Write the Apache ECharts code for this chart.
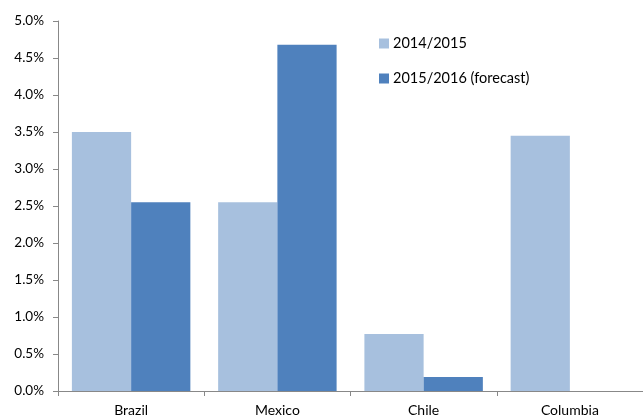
<!DOCTYPE html>
<html>
<head>
<meta charset="utf-8">
<script src="https://cdn.jsdelivr.net/npm/echarts@6/dist/echarts.min.js"></script>
<style>
  html, body { margin: 0; padding: 0; background: #fff; }
  #chart { width: 643px; height: 419px; }
</style>
</head>
<body>
<div id="chart"></div>
<script>
var countries = ['Brazil', 'Mexico', 'Chile', 'Columbia'];
var growth2014 = [3.5, 2.55, 0.77, 3.45];
var growth2015 = [2.55, 4.68, 0.19, null];
var seriesNames = ['2014/2015', '2015/2016 (forecast)'];

var myChart = echarts.init(document.getElementById('chart'));
var font = 'Lato, "Open Sans", sans-serif';

var option = {
  animation: false,
  backgroundColor: '#ffffff',
  color: ['#A7C0DE', '#4F81BD'],
  textStyle: { fontFamily: font },
  legend: {
    orient: 'vertical',
    left: 374,
    top: 31,
    itemWidth: 10,
    itemHeight: 10,
    itemGap: 20,
    icon: 'rect',
    textStyle: { fontSize: 14.5, color: '#000', fontFamily: font, padding: [0, 0, 0, -1] },
    data: seriesNames
  },
  grid: {
    left: 58,
    right: -5,
    top: 21,
    bottom: 28
  },
  xAxis: {
    type: 'category',
    data: countries,
    axisLine: { lineStyle: { color: '#888' } },
    axisTick: { show: true, length: 5, lineStyle: { color: '#888' } },
    axisLabel: { color: '#000', fontSize: 14, margin: 12, fontFamily: font }
  },
  yAxis: {
    type: 'value',
    min: 0,
    max: 5,
    interval: 0.5,
    axisLine: { show: true, lineStyle: { color: '#888' } },
    axisTick: { show: true, length: 5, lineStyle: { color: '#888' } },
    splitLine: { show: false },
    axisLabel: {
      color: '#000',
      fontSize: 13.5,
      margin: 14,
      fontFamily: font,
      formatter: function (v) { return v.toFixed(1) + '%'; }
    }
  },
  series: [
    {
      name: seriesNames[0],
      type: 'bar',
      barGap: '0%',
      barCategoryGap: '19%',
      data: growth2014
    },
    {
      name: seriesNames[1],
      type: 'bar',
      barGap: '0%',
      barCategoryGap: '19%',
      data: growth2015
    }
  ]
};

myChart.setOption(option);
</script>
</body>
</html>
